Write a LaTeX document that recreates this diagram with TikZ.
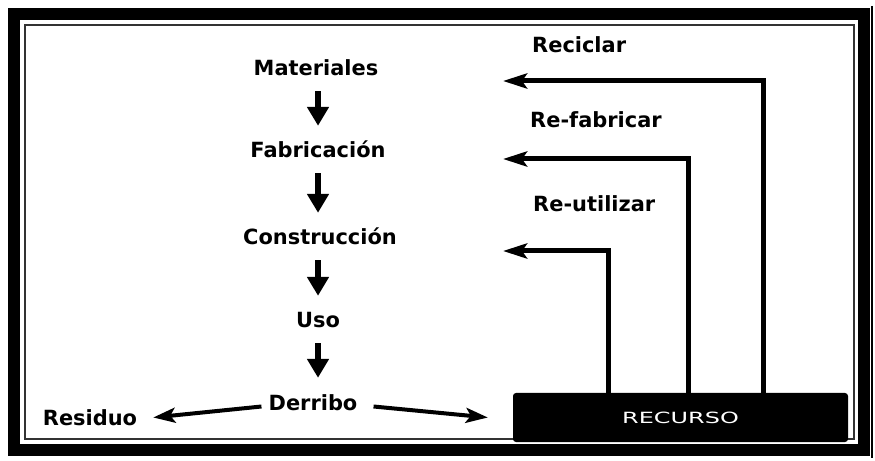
\documentclass[tikz,border=0pt]{standalone}
\usepackage{fontspec}
\setmainfont{DejaVu Sans}
\usetikzlibrary{arrows.meta,calc}
\tikzset{
  lbl/.style={font=\bfseries\fontsize{21}{23}\selectfont, inner sep=0pt, text height=15bp, text depth=0bp, anchor=base},
  rlbl/.style={lbl, anchor=base west},
  downarr/.style={line width=5.5bp, -{Triangle[length=19bp,width=21bp]}, shorten <=15bp, shorten >=17bp},
  sidearr/.style={line width=4bp, -{Stealth[length=22bp,width=15bp,inset=5bp]}},
  backarr/.style={line width=5bp, -{Stealth[length=24bp,width=15bp,inset=5bp]}},
  rbox/.style={fill=black, rounded corners=3bp, minimum width=335bp, minimum height=49bp, inner sep=0pt, text=white, font=\fontsize{15.5}{17}\selectfont}
}
\begin{document}
\begin{tikzpicture}[x=1bp,y=-1bp]
\useasboundingbox (0,0) rectangle (875,461);
% frame
\draw[line width=12bp] (14,14) rectangle (863.5,450);
\draw[line width=2.5bp] (872,6) -- (872,458);
\draw[line width=1.6bp, black!80] (25,25) rectangle (854,439);
% main flow
\node[lbl] (mat) at (316,76) {Materiales};
\node[lbl] (fab) at (318,158) {Fabricación};
\node[lbl] (con) at (320,245) {Construcción};
\node[lbl] (uso) at (318,328) {Uso};
\node[lbl] (der) at (313,410) {Derribo};
\node[lbl] (res) at (90,425) {Residuo};
\draw[downarr] (mat.south -| 318,0) -- (fab.north -| 318,0);
\draw[downarr] (fab.south -| 318,0) -- (con.north -| 318,0);
\draw[downarr] (con.south -| 318,0) -- (uso.north -| 318,0);
\draw[downarr] (uso.south -| 318,0) -- (der.north -| 318,0);
% recurso
\node[rbox] (rec) at (680.5,417.5) {\scalebox{1.55}[1]{RECURSO}};
\draw[sidearr] ([shift={(-7,4)}]der.west) -- ([shift={(16,0)}]res.east);
\draw[sidearr] ([shift={(16,4)}]der.east) -- ([shift={(-25,0)}]rec.west);
% back loops
\node[rlbl] (rci) at (532,53) {Reciclar};
\node[rlbl] (rfa) at (530,128) {Re-fabricar};
\node[rlbl] (rut) at (533,212) {Re-utilizar};
\coordinate (tci) at (503,81);
\coordinate (tfa) at (503,159);
\coordinate (tut) at (503,251);
\draw[backarr] (rec.north -| 763,0) |- (tci);
\draw[backarr] (rec.north -| 688,0) |- (tfa);
\draw[backarr] (rec.north -| 608,0) |- (tut);
\end{tikzpicture}
\end{document}
